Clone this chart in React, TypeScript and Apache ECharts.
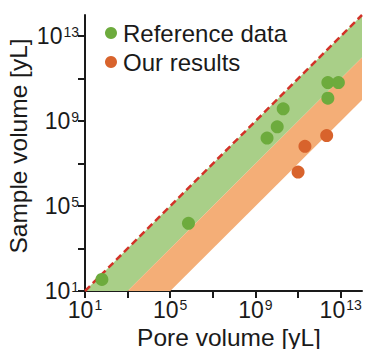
import React, { useEffect, useRef } from "react";
import * as echarts from "echarts";

// Pore volume [yL] (x) and sample volume [yL] (y)
const referencePoreVolume = [62, 7.2e5, 3.5e9, 1.05e10, 2.0e10, 2.5e12, 2.5e12, 7.8e12];
const referenceSampleVolume = [35, 1.55e4, 1.6e8, 5.4e8, 3.8e9, 1.2e10, 6.6e10, 6.6e10];
const ourPoreVolume = [2.2e12, 2.1e11, 1.0e11];
const ourSampleVolume = [2.1e8, 6.5e7, 4.0e6];

// decades below the y = x line that bound the shaded bands
const bandOffsets = [0, 2, 4];
const bandColors = ["#a9cf88", "#f4ae77"];

// axis exponents (10^n)
const axisMinExp = 1;
const axisMaxExp = 14;
const tickExps = [1, 3, 5, 7, 9, 11, 13];
const labelExps = [1, 5, 9, 13];

const seriesNames = ["Reference data", "Our results"];
const seriesColors = ["#6dab3d", "#d8632c"];

const toLog = (xs: number[], ys: number[]) => xs.map((x, i) => [Math.log10(x), Math.log10(ys[i])]);

export default function App() {
  const ref = useRef<HTMLDivElement>(null);
  useEffect(() => {
    if (!ref.current) return;
    const chart = echarts.init(ref.current, null, { renderer: "svg" });
    const font = "Liberation Sans, Arial, Helvetica, sans-serif";
    const labelFmt = (v: number) => `{b|10}{s|${Math.round(v)}}`;
    const rich = {
      b: { fontSize: 23, fontFamily: font, color: "#1a1a1a", lineHeight: 23 },
      s: { fontSize: 14, fontFamily: font, color: "#1a1a1a", verticalAlign: "top", lineHeight: 14, padding: [0, 0, 0, 1] },
    };
    const bands = bandOffsets.slice(0, -1).map((a, i) => [a, bandOffsets[i + 1]]);
    chart.setOption({
      animation: false,
      backgroundColor: "#ffffff",
      grid: { left: 85, right: 7, top: 15, bottom: 58, containLabel: false, outerBoundsMode: "none" },
      legend: {
        orient: "vertical",
        left: 100,
        top: 16,
        itemWidth: 12,
        itemHeight: 12,
        itemGap: 5,
        icon: "circle",
        data: seriesNames,
        textStyle: { fontSize: 24, fontFamily: font, color: "#1a1a1a", padding: [0, 0, 0, 1] },
      },
      xAxis: {
        type: "value",
        min: axisMinExp,
        max: axisMaxExp,
        name: "Pore volume [yL]",
        nameLocation: "middle",
        nameGap: 34,
        nameMoveOverlap: false,
        nameTextStyle: { fontSize: 24.5, lineHeight: 24, fontFamily: font, color: "#1a1a1a", padding: [0, 0, 0, 11] },
        splitLine: { show: false },
        axisLine: { onZero: false, lineStyle: { color: "#1a1a1a", width: 2 } },
        axisTick: { customValues: tickExps, length: 7, lineStyle: { color: "#1a1a1a", width: 2 } },
        axisLabel: { customValues: labelExps, margin: 7, formatter: labelFmt, rich },
      },
      yAxis: {
        type: "value",
        min: axisMinExp,
        max: axisMaxExp,
        name: "Sample volume [yL]",
        nameLocation: "middle",
        nameGap: 54,
        nameMoveOverlap: false,
        nameTextStyle: { fontSize: 24.5, fontFamily: font, color: "#1a1a1a", padding: [0, 0, 0, 14] },
        splitLine: { show: false },
        axisLine: { show: true, onZero: false, lineStyle: { color: "#1a1a1a", width: 2 } },
        axisTick: { show: true, customValues: tickExps, length: 7, lineStyle: { color: "#1a1a1a", width: 2 } },
        axisLabel: { customValues: labelExps, margin: 6, formatter: labelFmt, rich },
      },
      series: [
        {
          type: "custom",
          z: 1,
          silent: true,
          data: bands,
          renderItem: (params: any, api: any) => {
            const a = api.value(0);
            const b = api.value(1);
            const pts = [
              [axisMinExp + a, axisMinExp],
              [axisMaxExp, axisMaxExp - a],
              [axisMaxExp, axisMaxExp - b],
              [axisMinExp + b, axisMinExp],
            ].map((p) => api.coord(p));
            return { type: "polygon", shape: { points: pts }, style: { fill: bandColors[params.dataIndex] } };
          },
        },
        {
          type: "line",
          z: 2,
          silent: true,
          showSymbol: false,
          data: [
            [axisMinExp, axisMinExp],
            [axisMaxExp, axisMaxExp],
          ],
          lineStyle: { color: "#d23228", width: 2.5, type: [7, 4] },
        },
        {
          name: seriesNames[0],
          type: "scatter",
          z: 3,
          symbolSize: 13,
          itemStyle: { color: seriesColors[0], opacity: 1 },
          data: toLog(referencePoreVolume, referenceSampleVolume),
        },
        {
          name: seriesNames[1],
          type: "scatter",
          z: 3,
          symbolSize: 13,
          itemStyle: { color: seriesColors[1], opacity: 1 },
          data: toLog(ourPoreVolume, ourSampleVolume),
        },
      ],
    });
    return () => chart.dispose();
  }, []);
  return <div ref={ref} style={{ position: "fixed", left: 0, top: 0, width: 369, height: 349 }} />;
}
